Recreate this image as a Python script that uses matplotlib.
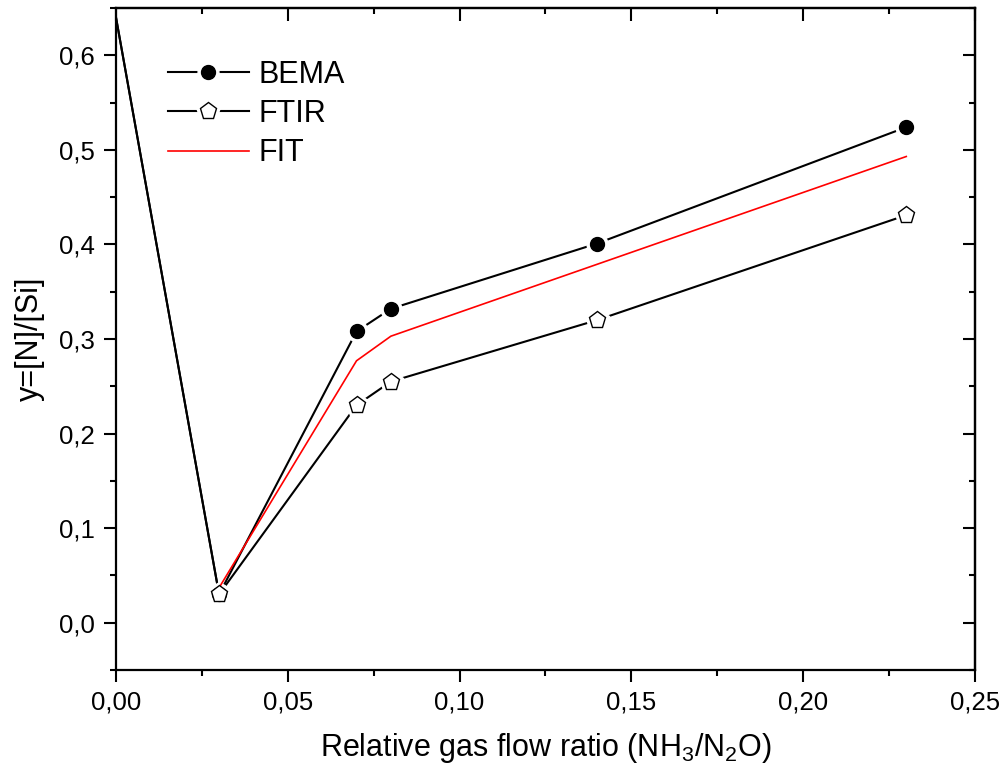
import numpy as np
import matplotlib.pyplot as plt
from matplotlib.ticker import FuncFormatter, MultipleLocator

plt.rcParams["font.family"] = ["Liberation Sans", "DejaVu Sans"]
plt.rcParams["mathtext.fontset"] = "custom"
plt.rcParams["mathtext.rm"] = "Liberation Sans"

# data
ratio = [0.0, 0.03, 0.07, 0.08, 0.14, 0.23]
y_bema = [0.64, 0.03, 0.308, 0.332, 0.401, 0.524]
y_ftir = [0.64, 0.03, 0.230, 0.255, 0.320, 0.431]
ratio_fit = [0.03, 0.07, 0.08, 0.14, 0.23]
y_fit = [0.037, 0.277, 0.303, 0.379, 0.493]

fig = plt.figure(figsize=(10.07, 7.80), dpi=100)
ax = fig.add_axes([0.1152, 0.141, 0.8530, 0.8487])

lw = 1.5
marks = slice(1, None)

# black connecting lines, white "gap" markers behind the real markers
l_b, = ax.plot(ratio, y_bema, color="black", lw=lw, zorder=2)
l_f, = ax.plot(ratio, y_ftir, color="black", lw=lw, zorder=2)
g_b, = ax.plot(ratio, y_bema, ls="none", marker="o", ms=15, mfc="white",
               mec="white", markevery=marks, zorder=3)
g_f, = ax.plot(ratio, y_ftir, ls="none", marker="p", ms=18, mfc="white",
               mec="white", markevery=marks, zorder=3)
l_fit, = ax.plot(ratio_fit, y_fit, color="red", lw=1.2, zorder=4)
m_b, = ax.plot(ratio, y_bema, ls="none", marker="o", ms=10, mfc="black",
               mec="black", markevery=marks, zorder=5)
m_f, = ax.plot(ratio, y_ftir, ls="none", marker="p", ms=12.5, mfc="white",
               mec="black", mew=1.0, markevery=marks, zorder=6)

ax.set_xlim(0, 0.25)
ax.set_ylim(-0.05, 0.65)
ax.xaxis.set_major_locator(MultipleLocator(0.05))
ax.xaxis.set_minor_locator(MultipleLocator(0.025))
ax.yaxis.set_major_locator(MultipleLocator(0.1))
ax.yaxis.set_minor_locator(MultipleLocator(0.05))
ax.xaxis.set_major_formatter(FuncFormatter(lambda v, p: f"{v:.2f}".replace(".", ",")))
ax.yaxis.set_major_formatter(FuncFormatter(lambda v, p: f"{v:.1f}".replace(".", ",").replace("-0,0", "0,0")))

for s in ax.spines.values():
    s.set_linewidth(1.6)

ax.tick_params(which="both", direction="out", width=1.5, labelsize=18.5,
               top=False, right=False)
ax.tick_params(which="major", length=8.5)
ax.tick_params(axis="x", which="major", pad=6)
ax.tick_params(axis="y", which="major", pad=7)
ax.tick_params(which="minor", length=4.5)

# inward ticks on top and right spines
ax_t = ax.secondary_xaxis("top")
ax_t.xaxis.set_major_locator(MultipleLocator(0.05))
ax_t.xaxis.set_minor_locator(MultipleLocator(0.025))
ax_t.tick_params(which="both", direction="in", width=1.5, labeltop=False)
ax_t.tick_params(which="major", length=9)
ax_t.tick_params(which="minor", length=4.5)
ax_r = ax.secondary_yaxis("right")
ax_r.yaxis.set_major_locator(MultipleLocator(0.1))
ax_r.yaxis.set_minor_locator(MultipleLocator(0.05))
ax_r.tick_params(which="both", direction="in", width=1.5, labelright=False)
ax_r.tick_params(which="major", length=9)
ax_r.tick_params(which="minor", length=4.5)
ax_t.spines["top"].set_linewidth(1.6)
ax_r.spines["right"].set_linewidth(1.6)

ax.set_xlabel("Relative gas flow ratio (NH$_3$/N$_2$O)", fontsize=22, labelpad=12)
ax.set_ylabel("y=[N]/[Si]", fontsize=22, labelpad=10)

ax.legend(handles=[(l_b, g_b, m_b), (l_f, g_f, m_f), l_fit],
          labels=["BEMA", "FTIR", "FIT"],
          loc="upper left", bbox_to_anchor=(0.0605, 0.9215), frameon=False,
          fontsize=22, handlelength=2.65, handletextpad=0.3,
          labelspacing=0.3, borderaxespad=0, borderpad=0)

fig.savefig("out.png", dpi=100)
